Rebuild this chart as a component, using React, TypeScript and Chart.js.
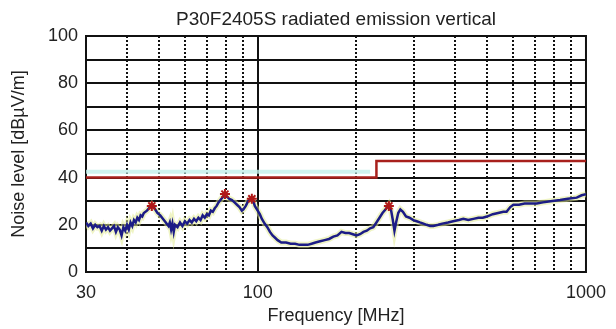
import React, { useEffect, useRef } from "react";
import { Chart, registerables } from "chart.js";

Chart.register(...registerables);

const TITLE = "P30F2405S radiated emission vertical";
const X_TITLE = "Frequency [MHz]";
const Y_TITLE = "Noise level [dBµV/m]";
const X_TICKS = [30, 100, 1000];
const Y_TICKS = [0, 20, 40, 60, 80, 100];
const X_GRID_DOTTED = [40, 50, 60, 70, 80, 90, 200, 300, 400, 500, 600, 700, 800, 900];
const X_GRID_SOLID = [100];
const Y_GRID = [10, 20, 30, 40, 50, 60, 70, 80, 90];

const traceFreq = [
  30, 30.5, 31, 31.5, 32, 32.5, 33, 33.5, 34, 34.5, 35, 35.5, 36, 36.5, 37, 37.5, 38, 38.5, 39, 39.5,
  40, 40.5, 41, 41.5, 42, 42.5, 43, 43.5, 44, 44.5, 45, 46, 47, 47.6, 48.5, 49.5, 50.5, 51.5, 52.5, 53.5,
  54, 54.5, 55, 55.5, 56, 57, 58, 59, 60, 61, 62, 63, 64, 65, 66, 67, 68, 69, 70, 71,
  72, 73, 74, 75, 76, 77, 78, 79.5, 80.5, 82, 83.5, 85, 86.5, 88, 89.5, 90.5, 92, 93.5, 95, 96.5,
  98, 100, 101.5, 103, 105, 107, 109, 111, 113, 115, 118, 122, 126, 130, 134, 138, 142, 146, 150, 155,
  160, 165, 170, 175, 180, 185, 190, 195, 200, 205, 210, 215, 220, 225, 230, 235, 240, 245, 251, 255,
  258, 261, 264, 268, 272, 277, 283, 290, 298, 305, 312, 320, 327, 335, 343, 355, 365, 380, 394, 410,
  423, 438, 454, 470, 485, 499, 520, 540, 560, 573, 588, 601, 625, 650, 680, 708, 740, 780, 834, 880,
  937, 970, 1000,
];
const traceLevel = [
  21, 19.5, 20.5, 18.5, 20, 19, 19.5, 17.5, 19.5, 18, 19, 17.5, 18.5, 19.5, 17, 19, 18, 15.5, 19, 17.5,
  20, 18, 21, 19.5, 22, 21, 23, 22, 24, 23.5, 25, 26, 27.5, 28.5, 27, 25, 24, 22.5, 21, 19.5,
  21, 18, 20.5, 17, 20, 19, 21, 19.5, 21.5, 20.5, 22, 21, 22.5, 21.5, 23, 22, 24, 23, 24.5, 24,
  26, 25.5, 27, 28, 29.5, 30.5, 31.5, 33, 32, 31, 30.5, 29.5, 28.5, 27.5, 26, 26.5, 28, 30, 31, 31,
  28, 26, 24.5, 22.5, 20.5, 19, 17, 15.5, 14.5, 13.5, 12.5, 12.5, 12, 12, 11.5, 11.5, 11.5, 12, 12.5, 13,
  13.5, 14, 15, 15.5, 17, 16.5, 16.5, 16, 15.5, 16, 17, 17.5, 18.5, 19, 21, 23, 25, 26.5, 28.5, 26,
  22, 17.5, 21, 25, 26.5, 25.5, 23.5, 23, 22, 21.5, 21, 20.5, 20, 19.5, 19.5, 20, 20.5, 21, 21.5, 22,
  22.5, 22, 22.5, 23, 23, 23.5, 24.5, 25, 25.5, 25.5, 27.5, 28.5, 28.5, 29, 29, 29, 29.5, 30, 30.5, 31,
  31.5, 32.5, 33,
];
const limitFreq = [30, 230, 230, 1000];
const limitLevel = [40, 40, 47, 47];
const refFreq = [30, 220];
const refLevel = [42.5, 42.5];
const peakFreq = [47.6, 79.5, 96, 251];
const peakLevel = [28, 33, 31, 28];

const FONT = "'Liberation Sans', Arial, sans-serif";
const TEXT = "#222";

const pts = (xs: number[], ys: number[]) => xs.map((x, i) => ({ x, y: ys[i] }));

const gridPlugin = {
  id: "customGrid",
  beforeDatasetsDraw(chart: any) {
    const { ctx, chartArea: a, scales } = chart;
    const x = scales.x;
    const y = scales.y;
    ctx.save();
    ctx.strokeStyle = "#111";
    ctx.lineWidth = 2;
    Y_GRID.forEach((v) => {
      const py = Math.round(y.getPixelForValue(v));
      ctx.beginPath();
      ctx.moveTo(a.left, py);
      ctx.lineTo(a.right, py);
      ctx.stroke();
    });
    X_GRID_SOLID.forEach((v) => {
      const px = Math.round(x.getPixelForValue(v));
      ctx.beginPath();
      ctx.moveTo(px, a.top);
      ctx.lineTo(px, a.bottom);
      ctx.stroke();
    });
    ctx.setLineDash([2, 2]);
    X_GRID_DOTTED.forEach((v) => {
      const px = Math.round(x.getPixelForValue(v));
      ctx.beginPath();
      ctx.moveTo(px, a.top);
      ctx.lineTo(px, a.bottom);
      ctx.stroke();
    });
    ctx.setLineDash([]);
    ctx.strokeRect(a.left, a.top, a.right - a.left, a.bottom - a.top);
    ctx.restore();
  },
  afterDraw(chart: any) {
    const { ctx, chartArea: a } = chart;
    ctx.save();
    ctx.fillStyle = TEXT;
    ctx.font = `19px ${FONT}`;
    ctx.textAlign = "center";
    ctx.textBaseline = "middle";
    ctx.fillText(TITLE, (a.left + a.right) / 2, 20);
    ctx.restore();
  },
};

export default function App() {
  const ref = useRef<HTMLCanvasElement | null>(null);
  useEffect(() => {
    if (!ref.current) return;
    const chart = new Chart(ref.current, {
      type: "line",
      data: {
        datasets: [
          {
            data: pts(peakFreq, peakLevel),
            showLine: false,
            pointStyle: "star",
            pointRadius: 5,
            borderWidth: 2,
            borderColor: "#b01818",
            backgroundColor: "#b01818",
            order: 0,
          },
          {
            data: pts(traceFreq, traceLevel),
            borderColor: "#1c1c86",
            borderWidth: 2.5,
            pointRadius: 0,
            tension: 0,
            order: 1,
          },
          {
            data: pts(traceFreq, traceLevel),
            borderColor: "rgba(225,235,150,0.55)",
            borderWidth: 6,
            pointRadius: 0,
            order: 2,
          },
          {
            data: pts(limitFreq, limitLevel),
            borderColor: "#a8201c",
            borderWidth: 2.5,
            pointRadius: 0,
            order: 3,
          },
          {
            data: pts(refFreq, refLevel),
            borderColor: "rgba(195,240,235,0.8)",
            borderWidth: 4,
            pointRadius: 0,
            order: 4,
          },
        ],
      },
      options: {
        animation: false,
        responsive: false,
        layout: { padding: { top: 36, right: 30, left: 0, bottom: 0 } },
        plugins: { legend: { display: false }, title: { display: false }, tooltip: { enabled: false } },
        scales: {
          x: {
            type: "logarithmic",
            min: 30,
            max: 1000,
            afterBuildTicks: (s: any) => {
              s.ticks = X_TICKS.map((v) => ({ value: v }));
            },
            afterFit: (s: any) => {
              s.height = 57;
            },
            ticks: {
              autoSkip: false,
              maxRotation: 0,
              padding: 10,
              color: TEXT,
              font: { family: FONT, size: 18 },
              callback: (v: any) => String(v),
            },
            grid: { display: false, drawTicks: false },
            border: { display: false },
            title: {
              display: true,
              text: X_TITLE,
              color: TEXT,
              font: { family: FONT, size: 18 },
              padding: { top: 0, bottom: 2 },
            },
          },
          y: {
            min: 0,
            max: 100,
            afterBuildTicks: (s: any) => {
              s.ticks = Y_TICKS.map((v) => ({ value: v }));
            },
            afterFit: (s: any) => {
              s.width = 86;
            },
            ticks: {
              padding: 8,
              color: TEXT,
              font: { family: FONT, size: 18 },
            },
            grid: { display: false, drawTicks: false },
            border: { display: false },
            title: {
              display: true,
              text: Y_TITLE,
              color: TEXT,
              font: { family: FONT, size: 18 },
              padding: { top: 8, bottom: 0 },
            },
          },
        },
      },
      plugins: [gridPlugin],
    } as any);
    return () => chart.destroy();
  }, []);
  return (
    <div style={{ position: "fixed", left: 0, top: 0, width: 616, height: 329, background: "#fff" }}>
      <canvas ref={ref} width={616} height={329} />
    </div>
  );
}
